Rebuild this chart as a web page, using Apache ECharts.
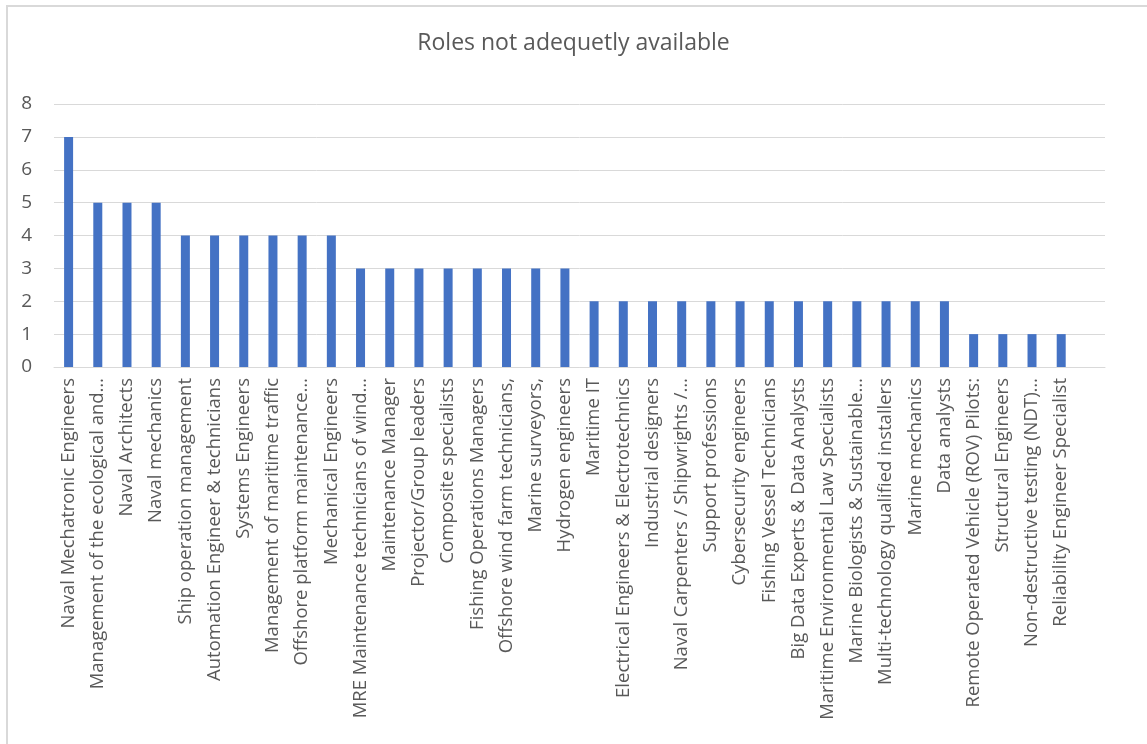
<!DOCTYPE html>
<html>
<head>
<meta charset="utf-8">
<script src="https://cdn.jsdelivr.net/npm/echarts@6/dist/echarts.min.js"></script>
<style>
html,body{margin:0;padding:0;background:#fff;}
#frame{position:absolute;left:6px;top:5px;width:1160px;height:760px;border-left:2px solid #d9d9d9;border-top:2px solid #d9d9d9;box-sizing:border-box;}
#chart{position:absolute;left:0;top:0;width:1147px;height:744px;}
</style>
</head>
<body>
<div id="frame"></div>
<div id="chart"></div>
<script>
const titleText = "Roles not adequetly available";
// the source chart reserves one trailing empty category slot
const categories = [
  "Naval Mechatronic Engineers",
  "Management of the ecological and\u2026",
  "Naval Architects",
  "Naval mechanics",
  "Ship operation management",
  "Automation Engineer & technicians",
  "Systems Engineers",
  "Management of maritime traffic",
  "Offshore platform maintenance\u2026",
  "Mechanical Engineers",
  "MRE Maintenance technicians of wind\u2026",
  "Maintenance Manager",
  "Projector/Group leaders",
  "Composite specialists",
  "Fishing Operations Managers",
  "Offshore wind farm technicians,",
  "Marine surveyors,",
  "Hydrogen engineers",
  "Maritime IT",
  "Electrical Engineers & Electrotechnics",
  "Industrial designers",
  "Naval Carpenters / Shipwrights /\u2026",
  "Support professions",
  "Cybersecurity engineers",
  "Fishing Vessel Technicians",
  "Big Data Experts & Data Analysts",
  "Maritime Environmental Law Specialists",
  "Marine Biologists & Sustainable\u2026",
  "Multi-technology qualified installers",
  "Marine mechanics",
  "Data analysts",
  "Remote Operated Vehicle (ROV) Pilots:",
  "Structural Engineers",
  "Non-destructive testing (NDT)\u2026",
  "Reliability Engineer Specialist",
  ""
];
const values = [7,5,5,5,4,4,4,4,4,4,3,3,3,3,3,3,3,3,2,2,2,2,2,2,2,2,2,2,2,2,2,1,1,1,1,null];
const yTicks = {min:0, max:8, interval:1};

const chart = echarts.init(document.getElementById('chart'), null, {renderer:'canvas'});
chart.setOption({
  animation:false,
  backgroundColor:'transparent',
  title:{
    text:titleText, left:'center', top:27,
    textStyle:{fontFamily:'Open Sans', fontSize:23, fontWeight:'normal', color:'#595959'}
  },
  grid:{left:54, right:42, top:104, bottom:377, containLabel:false},
  xAxis:{
    type:'category', data:categories,
    axisLine:{show:true, lineStyle:{color:'#d9d9d9', width:1}},
    axisTick:{show:false},
    axisLabel:{rotate:90, interval:0, fontFamily:'Open Sans', fontSize:18.5, color:'#595959', margin:11}
  },
  yAxis:{
    type:'value', min:yTicks.min, max:yTicks.max, interval:yTicks.interval,
    axisLine:{show:false}, axisTick:{show:false},
    splitLine:{lineStyle:{color:'#d9d9d9', width:1}},
    axisLabel:{fontFamily:'Open Sans', fontSize:19, color:'#595959', margin:22}
  },
  series:[{
    type:'bar', data:values, barWidth:9,
    itemStyle:{color:'#4472c4'}
  }]
});
</script>
</body>
</html>
